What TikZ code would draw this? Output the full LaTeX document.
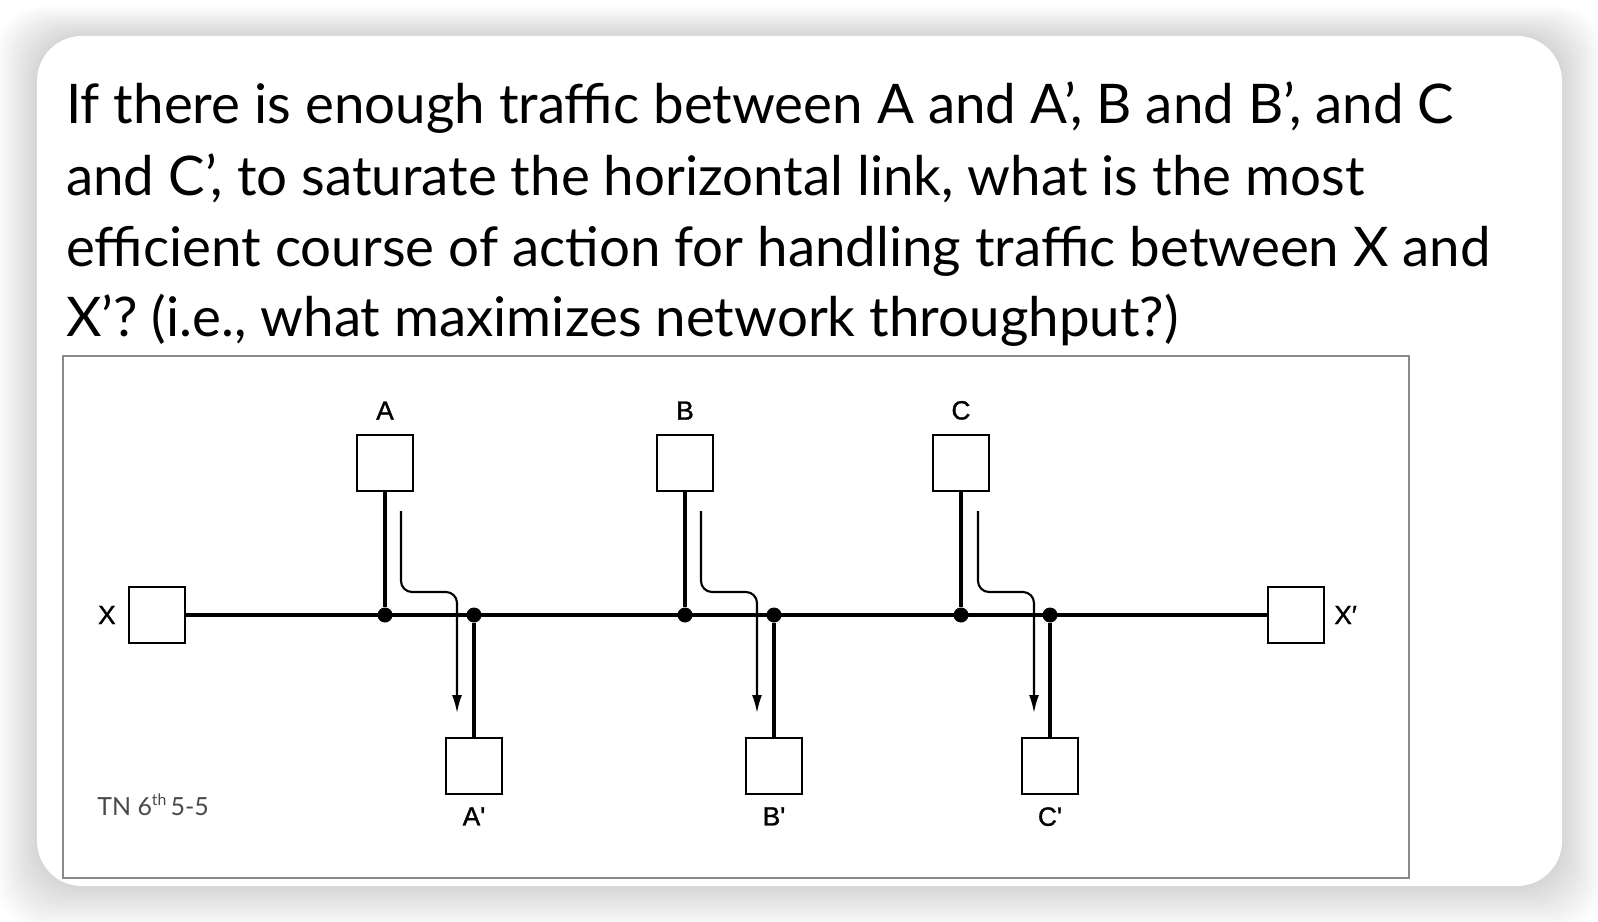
\documentclass[tikz,border=0pt]{standalone}
\usepackage{fontspec}
\setmainfont{Lato}
\newfontfamily\diagfont{Liberation Sans}[FakeBold=1.2]
\usetikzlibrary{positioning, arrows.meta}
\definecolor{framegray}{HTML}{8A8A8A}
\definecolor{notegray}{HTML}{4A4A4A}
\tikzset{
	>={Latex[length=0.36cm,width=0.2cm]},
	station/.style={draw, line width=1.1pt, fill=white, minimum size=1.12cm, inner sep=0pt},
	tap/.style={circle, fill, inner sep=0pt, minimum size=0.3cm},
	lbl/.style={inner sep=0pt, font=\diagfont\fontsize{15}{18}\selectfont},
	link/.style={line width=2.2pt},
	flow/.style={->, line width=1.2pt, rounded corners=0.22cm},
	qline/.style={anchor=base west, inner sep=0pt, font=\fontsize{31.1}{40}\selectfont}}

\begin{document}
\begin{tikzpicture}[x=0.02cm, y=-0.02cm]
		\useasboundingbox (0,0) rectangle (1598,922);
		
		%Card with shadow
		\foreach \s in {1,...,20}
			\fill[black, opacity=0.006, rounded corners=0.9cm] (37-2*\s,36-1.5*\s) rectangle (1562+2*\s,886+2.2*\s);
		\fill[white, rounded corners=0.9cm] (37,36) rectangle (1562,886);
		
		%Question
		\node[qline] (q1) at (66,124) {If there is enough traffic between A and A’, B and B’, and C};
		\node[qline] (q2) at (66,195) {and C’, to saturate the horizontal link, what is the most};
		\node[qline] (q3) at (66,266.5) {efficient course of action for handling traffic between X and};
		\node[qline] (q4) at (66,336.5) {X’? (i.e., what maximizes network throughput?)};
		
		%Figure frame
		\draw[framegray, line width=1.1pt] (63,356) rectangle (1409,878);
		
		%Ends of the link
		\node[station] (X) at (157,615) {};
		\node[station] (Xp) at (1296,615) {};
		\node[lbl, left=0.24cm of X] (Xlabel) {X};
		\node[lbl, right=0.18cm of Xp] (Xplabel) {X′};
		
		%Top
		\node[station] (A) at (385,463) {};
		\node[station] (B) at (685,463) {};
		\node[station] (C) at (961,463) {};
		\node[lbl, above=0.28cm of A] (Alabel) {A};
		\node[lbl, above=0.28cm of B] (Blabel) {B};
		\node[lbl, above=0.28cm of C] (Clabel) {C};
		
		%Bottom
		\node[station] (Ap) at (474,766) {};
		\node[station] (Bp) at (774,766) {};
		\node[station] (Cp) at (1050,766) {};
		\node[lbl, below=0.24cm of Ap] (Aplabel) {A\textquotesingle};
		\node[lbl, below=0.24cm of Bp] (Bplabel) {B\textquotesingle};
		\node[lbl, below=0.24cm of Cp] (Cplabel) {C\textquotesingle};
		
		%Taps on the link
		\node[tap] (tA) at (385,615) {};
		\node[tap] (tAp) at (474,615) {};
		\node[tap] (tB) at (685,615) {};
		\node[tap] (tBp) at (774,615) {};
		\node[tap] (tC) at (961,615) {};
		\node[tap] (tCp) at (1050,615) {};
		
		\node[anchor=base west, inner sep=0pt, font=\fontsize{14.2}{17}\selectfont, text=notegray] (src) at (97,815)
			{TN 6\raisebox{0.75ex}{\fontsize{9}{9}\selectfont th}\,5-5};
		
		\draw[link]
		(X) -- (Xp)
		(A) -- (tA)
		(tAp) -- (Ap)
		(B) -- (tB)
		(tBp) -- (Bp)
		(C) -- (tC)
		(tCp) -- (Cp);
		
		%Traffic
		\coordinate (fA0) at (401,511);
		\coordinate (fA1) at (457,713);
		\coordinate (fB0) at (701,511);
		\coordinate (fB1) at (757,713);
		\coordinate (fC0) at (978,511);
		\coordinate (fC1) at (1034,713);
		\draw[flow] (fA0) -- ++(0,81) -- ++(56,0) -- (fA1);
		\draw[flow] (fB0) -- ++(0,81) -- ++(56,0) -- (fB1);
		\draw[flow] (fC0) -- ++(0,81) -- ++(56,0) -- (fC1);
		
	\end{tikzpicture}
\end{document}
